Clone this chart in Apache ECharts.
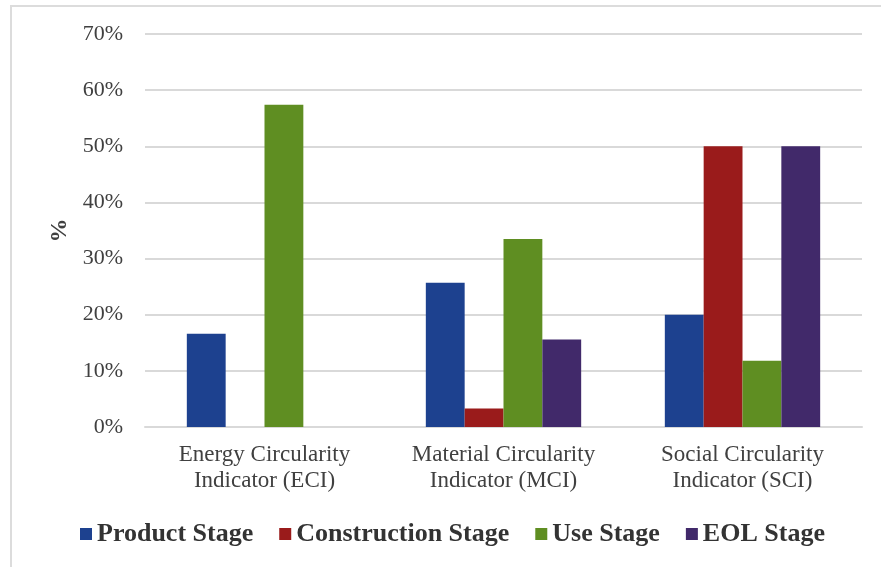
<!DOCTYPE html>
<html>
<head>
<meta charset="utf-8">
<script src="https://cdn.jsdelivr.net/npm/echarts@6/dist/echarts.min.js"></script>
<style>
  html, body { margin: 0; padding: 0; background: #fff; }
  #main { width: 881px; height: 567px; }
</style>
</head>
<body>
<div id="main"></div>
<script>
// data
var categories = ['Energy Circularity\nIndicator (ECI)', 'Material Circularity\nIndicator (MCI)', 'Social Circularity\nIndicator (SCI)'];
var productStage = [16.6, 25.7, 20.0];
var constructionStage = [0, 3.3, 50.0];
var useStage = [57.4, 33.5, 11.8];
var eolStage = [0, 15.6, 50.0];
var yTicks = [0, 10, 20, 30, 40, 50, 60, 70];

var serif = '"Liberation Serif", "DejaVu Serif", serif';
var myChart = echarts.init(document.getElementById('main'));

function bar(name, data, color) {
  return {
    name: name,
    type: 'bar',
    data: data,
    barGap: 0,
    barCategoryGap: '35%',
    itemStyle: { color: color }
  };
}

var option = {
  backgroundColor: '#fff',
  animation: false,
  grid: { left: 145, right: 19, top: 34, bottom: 140 },
  legend: {
    left: 75,
    top: 516,
    icon: 'rect',
    itemWidth: 12,
    itemHeight: 12,
    itemGap: 26,
    textStyle: { fontFamily: serif, fontWeight: 'bold', fontSize: 26, color: '#333' },
    data: ['Product Stage', 'Construction Stage', 'Use Stage', 'EOL Stage']
  },
  xAxis: {
    type: 'category',
    data: categories,
    axisTick: { show: false },
    axisLine: { lineStyle: { color: '#d9d9d9', width: 2 } },
    axisLabel: { fontFamily: serif, fontSize: 23, color: '#404040', lineHeight: 26, margin: 15 }
  },
  yAxis: {
    type: 'value',
    min: yTicks[0],
    max: yTicks[yTicks.length - 1],
    interval: 10,
    name: '%',
    nameLocation: 'middle',
    nameGap: 71,
    nameRotate: 90,
    nameTextStyle: { fontFamily: serif, fontWeight: 'bold', fontSize: 24, color: '#404040' },
    axisLabel: { formatter: '{value}%', fontFamily: serif, fontSize: 22, color: '#404040', margin: 22 },
    splitLine: { lineStyle: { color: '#d9d9d9', width: 2 } }
  },
  series: [
    bar('Product Stage', productStage, '#1d418f'),
    bar('Construction Stage', constructionStage, '#9a1b1b'),
    bar('Use Stage', useStage, '#5f8e22'),
    bar('EOL Stage', eolStage, '#41296a')
  ],
  graphic: [{
    type: 'polyline',
    shape: { points: [[11, 567], [11, 6], [881, 6]] },
    style: { stroke: '#dcdcdc', lineWidth: 2, fill: null }
  }]
};

myChart.setOption(option);
</script>
</body>
</html>
